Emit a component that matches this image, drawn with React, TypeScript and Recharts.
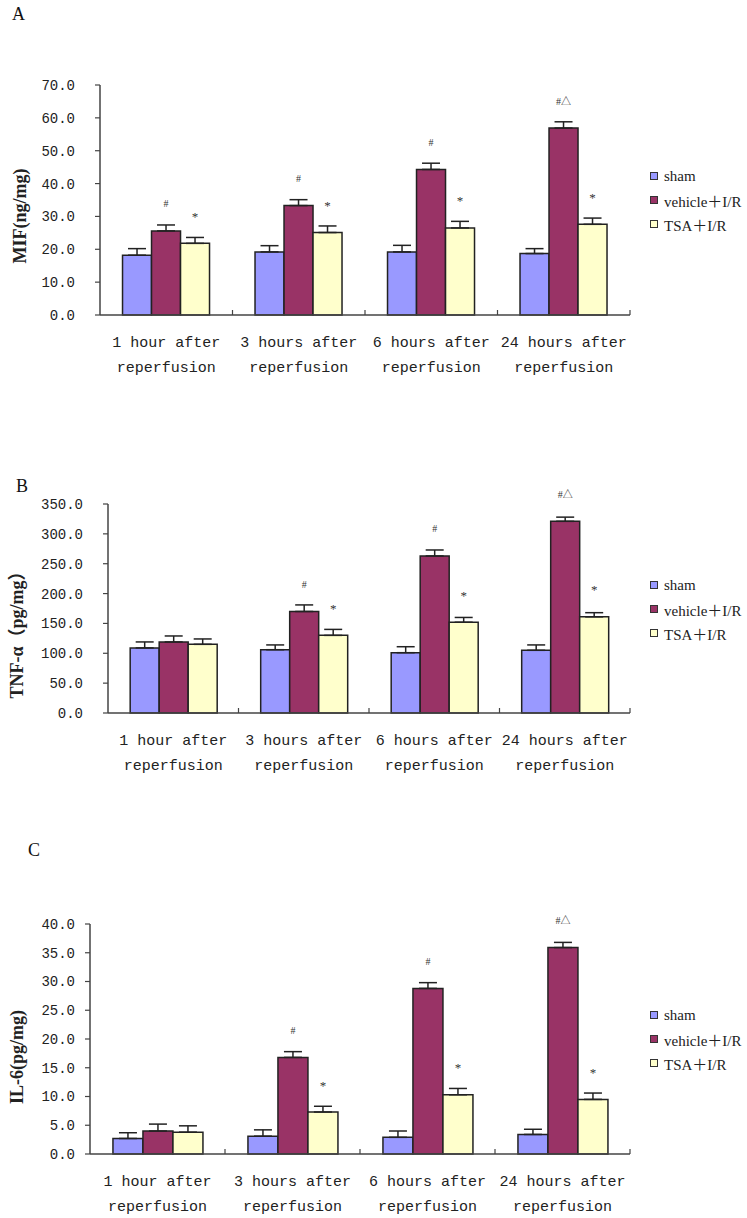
import React from "react";
import { BarChart, Bar, XAxis, YAxis, ErrorBar, LabelList, Legend } from "recharts";

const categories = [
    "1 hour after\nreperfusion",
    "3 hours after\nreperfusion",
    "6 hours after\nreperfusion",
    "24 hours after\nreperfusion",
];
const seriesNames = ["sham", "vehicle＋I/R", "TSA＋I/R"];
const seriesColors = ["#9999ff", "#993366", "#ffffcc"];

// A - MIF
const mifSham = [18.2, 19.2, 19.2, 18.7];
const mifShamErr = [2.0, 1.9, 2.0, 1.5];
const mifVehicle = [25.6, 33.3, 44.3, 56.9];
const mifVehicleErr = [1.8, 1.8, 1.9, 1.9];
const mifTsa = [21.8, 25.1, 26.5, 27.6];
const mifTsaErr = [1.8, 2.0, 2.0, 1.9];
const mifTicks = [0, 10, 20, 30, 40, 50, 60, 70];

// B - TNF-α
const tnfSham = [109, 106, 101, 105];
const tnfShamErr = [10, 8, 10, 9];
const tnfVehicle = [119, 170, 263, 321];
const tnfVehicleErr = [10, 11, 10, 7];
const tnfTsa = [115, 130, 152, 161];
const tnfTsaErr = [9, 10, 8, 7];
const tnfTicks = [0, 50, 100, 150, 200, 250, 300, 350];

// C - IL-6
const il6Sham = [2.7, 3.1, 2.9, 3.4];
const il6ShamErr = [1.0, 1.1, 1.1, 0.9];
const il6Vehicle = [4.0, 16.8, 28.8, 35.9];
const il6VehicleErr = [1.2, 1.0, 1.0, 0.9];
const il6Tsa = [3.8, 7.3, 10.3, 9.5];
const il6TsaErr = [1.1, 1.0, 1.1, 1.1];
const il6Ticks = [0, 5, 10, 15, 20, 25, 30, 35, 40];

// significance marks
const vehicleMarksA = ["#", "#", "#", "#△"];
const tsaMarksA = ["*", "*", "*", "*"];
const vehicleMarksBC = ["", "#", "#", "#△"];
const tsaMarksBC = ["", "*", "*", "*"];

const buildRows = (sham, shamErr, veh, vehErr, tsa, tsaErr, vMarks, tMarks) =>
    categories.map((name, i) => ({
        name,
        sham: sham[i],
        shamErr: [0, shamErr[i]],
        vehicle: veh[i],
        vehicleErr: [0, vehErr[i]],
        tsa: tsa[i],
        tsaErr: [0, tsaErr[i]],
        vMark: vMarks[i],
        tMark: tMarks[i],
    }));

const mifData = buildRows(mifSham, mifShamErr, mifVehicle, mifVehicleErr, mifTsa, mifTsaErr, vehicleMarksA, tsaMarksA);
const tnfData = buildRows(tnfSham, tnfShamErr, tnfVehicle, tnfVehicleErr, tnfTsa, tnfTsaErr, vehicleMarksBC, tsaMarksBC);
const il6Data = buildRows(il6Sham, il6ShamErr, il6Vehicle, il6VehicleErr, il6Tsa, il6TsaErr, vehicleMarksBC, tsaMarksBC);

const CHART_W = 747;
const PLOT_RIGHT = 630;
const MONO = "'Liberation Mono', 'DejaVu Sans Mono', monospace";
const SERIF = "'Liberation Serif', 'Noto Sans CJK SC', serif";

const renderMark = (props: any) => {
    const { x, y, width, value } = props;
    if (!value) return null;
    return (
        <text x={x + width / 2} y={y - 27} textAnchor="middle" dominantBaseline="central"
              fontSize={value === "*" ? 13 : 10} fontFamily={SERIF} fill="#333" stroke="none">
            {value}
        </text>
    );
};

const renderLegend = (props: any) => {
    const items = [...(props.payload || [])].sort(
        (a: any, b: any) => seriesNames.indexOf(a.value) - seriesNames.indexOf(b.value)
    );
    return (
        <div style={{ fontFamily: SERIF, fontSize: 15, color: "#222" }}>
            {items.map((e: any) => (
                <div key={e.value} style={{ display: "flex", alignItems: "center", height: 24 }}>
                    <span style={{
                        display: "inline-block", width: 8, height: 8, boxSizing: "border-box",
                        border: "1.5px solid #333", background: e.color, marginRight: 6
                    }} />
                    {e.value}
                </div>
            ))}
        </div>
    );
};

const YLabel = (props: any) => {
    const { viewBox, text, lx, dy, bold } = props;
    const cy = viewBox.y + viewBox.height / 2 + dy;
    return (
        <text x={lx} y={cy} transform={`rotate(-90, ${lx}, ${cy})`} textAnchor="middle"
              dominantBaseline="central" fontFamily={SERIF} fontSize={18}
              fontWeight="bold" fill="#222">
            {text}
        </text>
    );
};

const Panel = ({ data, ticks, letter, letterPos, top, plotLeft, plotTop, plotHeight, xAxisHeight,
                   tickMargin, yLabel, labelX, labelDy, legendTop }: any) => {
    const plotWidth = PLOT_RIGHT - plotLeft;
    const band = plotWidth / categories.length;

    const XTick = (p: any) => {
        const { x, y, payload } = p;
        const lines = String(payload.value).split("\n");
        return (
            <g>
                <line x1={x + band / 2} x2={x + band / 2} y1={y} y2={y - 5} stroke="#444" strokeWidth={1.2} />
                <text x={x} y={y + 32} textAnchor="middle" fontFamily={MONO} fontSize={15} fill="#222">{lines[0]}</text>
                <text x={x} y={y + 57} textAnchor="middle" fontFamily={MONO} fontSize={15} fill="#222">{lines[1]}</text>
            </g>
        );
    };

    return (
        <div style={{ position: "absolute", left: 0, top, width: CHART_W }}>
            <div style={{
                position: "absolute", left: letterPos[0], top: letterPos[1] - top,
                fontFamily: SERIF, fontSize: 18, color: "#111"
            }}>{letter}</div>
            <BarChart
                width={CHART_W}
                height={plotTop + plotHeight + xAxisHeight}
                data={data}
                margin={{ top: plotTop, right: CHART_W - PLOT_RIGHT, bottom: 0, left: 0 }}
                barCategoryGap="17%"
                barGap={0}
            >
                <XAxis
                    dataKey="name"
                    height={xAxisHeight}
                    axisLine={{ stroke: "#444", strokeWidth: 1.5 }}
                    tickLine={false}
                    tickSize={0}
                    tickMargin={0}
                    interval={0}
                    tick={<XTick />}
                />
                <YAxis
                    width={plotLeft}
                    domain={[ticks[0], ticks[ticks.length - 1]]}
                    ticks={ticks}
                    interval={0}
                    tickFormatter={(v: number) => v.toFixed(1)}
                    axisLine={{ stroke: "#444", strokeWidth: 1.5 }}
                    tickLine={{ stroke: "#444", strokeWidth: 1.2 }}
                    tickSize={5}
                    tickMargin={tickMargin}
                    tick={{ fontFamily: MONO, fontSize: 14, fill: "#222" }}
                    label={<YLabel text={yLabel} lx={labelX} dy={labelDy} />}
                />
                <Legend
                    layout="vertical"
                    align="center"
                    verticalAlign="middle"
                    content={renderLegend}
                    wrapperStyle={{ left: 650, top: legendTop, width: 97 }}
                />
                <Bar dataKey="sham" name={seriesNames[0]} fill={seriesColors[0]} stroke="#222" strokeWidth={1.5} isAnimationActive={false}>
                    <ErrorBar dataKey="shamErr" direction="y" width={9} stroke="#222" strokeWidth={1.5} isAnimationActive={false} />
                </Bar>
                <Bar dataKey="vehicle" name={seriesNames[1]} fill={seriesColors[1]} stroke="#222" strokeWidth={1.5} isAnimationActive={false}>
                    <ErrorBar dataKey="vehicleErr" direction="y" width={9} stroke="#222" strokeWidth={1.5} isAnimationActive={false} />
                    <LabelList dataKey="vMark" content={renderMark} />
                </Bar>
                <Bar dataKey="tsa" name={seriesNames[2]} fill={seriesColors[2]} stroke="#222" strokeWidth={1.5} isAnimationActive={false}>
                    <ErrorBar dataKey="tsaErr" direction="y" width={9} stroke="#222" strokeWidth={1.5} isAnimationActive={false} />
                    <LabelList dataKey="tMark" content={renderMark} />
                </Bar>
            </BarChart>
        </div>
    );
};

export default function App() {
    return (
        <div style={{ position: "absolute", left: 0, top: 0, width: 747, height: 1218, background: "#fff" }}>
            <Panel data={mifData} ticks={mifTicks} letter="A" letterPos={[12, 4]} top={0}
                   plotLeft={100} plotTop={85} plotHeight={230} xAxisHeight={70} tickMargin={20}
                   yLabel="MIF(ng/mg)" labelX={20} labelDy={16} legendTop={164} />
            <Panel data={tnfData} ticks={tnfTicks} letter="B" letterPos={[16, 476]} top={420}
                   plotLeft={108} plotTop={84} plotHeight={209} xAxisHeight={70} tickMargin={20}
                   yLabel="TNF-α（pg/mg）" labelX={17} labelDy={22} legendTop={153} />
            <Panel data={il6Data} ticks={il6Ticks} letter="C" letterPos={[28, 840]} top={840}
                   plotLeft={90} plotTop={84} plotHeight={230} xAxisHeight={64} tickMargin={10}
                   yLabel="IL-6(pg/mg)" labelX={17} labelDy={18} legendTop={163} />
        </div>
    );
}
